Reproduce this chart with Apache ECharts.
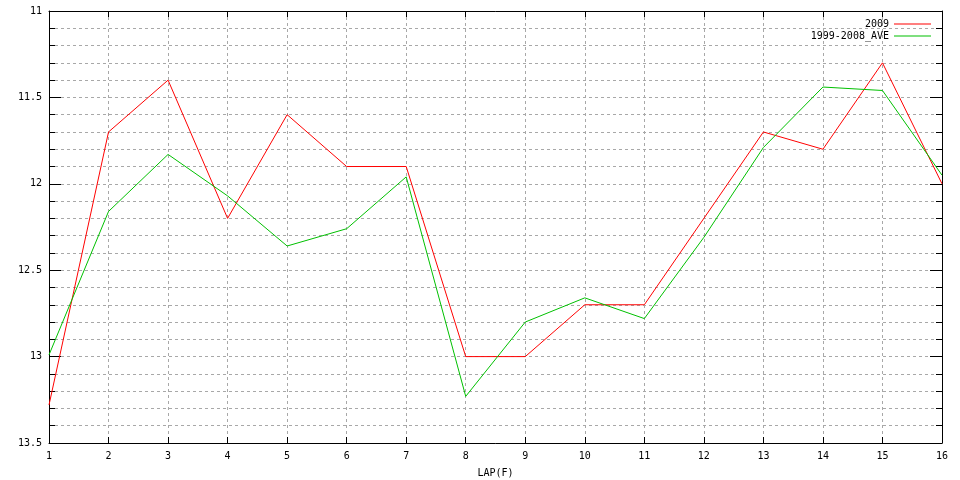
<!DOCTYPE html>
<html>
<head>
<meta charset="utf-8">
<script src="https://cdn.jsdelivr.net/npm/echarts@6/dist/echarts.min.js"></script>
<style>html,body{margin:0;padding:0;background:#fff;}#c{width:960px;height:480px;}</style>
</head>
<body>
<div id="c"></div>
<script>
const laps = [1,2,3,4,5,6,7,8,9,10,11,12,13,14,15,16];
const series2009 = [13.28,11.7,11.4,12.2,11.6,11.9,11.9,13.0,13.0,12.7,12.7,12.2,11.7,11.8,11.3,12.0];
const seriesAve = [12.99,12.16,11.83,12.07,12.36,12.26,11.96,13.23,12.8,12.66,12.78,12.31,11.79,11.44,11.46,11.95];
const seriesNames = ['2009','1999-2008_AVE'];
const colors = ['#ff0000','#00c000'];

const font = 'DejaVu Sans Mono';
const gridLine = {show:true, lineStyle:{color:'#a8a8a8', type:[3,3], width:1}};
const chart = echarts.init(document.getElementById('c'));
chart.setOption({
  animation:false,
  textStyle:{fontFamily:font, fontSize:10, color:'#000'},
  grid:{left:49, right:18, top:11, bottom:37, show:false, containLabel:false, outerBoundsMode:'none'},
  legend:{
    show:true, orient:'vertical', right:24, top:14, align:'right',
    icon:'rect', itemWidth:37, itemHeight:1, itemGap:2,
    textStyle:{fontFamily:font, fontSize:10, color:'#000', padding:[0,0,0,1]},
    data:seriesNames
  },
  xAxis:[
    {type:'value', min:1, max:16, interval:1, position:'bottom',
     name:'LAP(F)', nameLocation:'middle', nameGap:25,
     nameTextStyle:{fontFamily:font, fontSize:10, color:'#000'},
     axisLine:{show:true, lineStyle:{color:'#000', width:1}},
     axisTick:{show:true, inside:true, length:6, lineStyle:{color:'#000'}},
     axisLabel:{margin:8, fontFamily:font, fontSize:10, color:'#000'},
     splitLine:gridLine},
    {type:'value', min:1, max:16, interval:1, position:'top',
     axisLine:{show:true, lineStyle:{color:'#000', width:1}},
     axisTick:{show:true, inside:true, length:6, lineStyle:{color:'#000'}},
     axisLabel:{show:false}, splitLine:{show:false}}
  ],
  yAxis:[
    {type:'value', min:11, max:13.5, interval:0.5, inverse:true, position:'left',
     axisLine:{show:true, lineStyle:{color:'#000', width:1}},
     axisTick:{show:true, inside:true, length:12, lineStyle:{color:'#000'}},
     minorTick:{show:true, splitNumber:5, length:6, lineStyle:{color:'#000'}},
     axisLabel:{margin:7, fontFamily:font, fontSize:10, color:'#000'},
     splitLine:gridLine, minorSplitLine:gridLine},
    {type:'value', min:11, max:13.5, interval:0.5, inverse:true, position:'right',
     axisLine:{show:true, lineStyle:{color:'#000', width:1}},
     axisTick:{show:true, inside:true, length:12, lineStyle:{color:'#000'}},
     minorTick:{show:true, splitNumber:5, length:6, lineStyle:{color:'#000'}},
     axisLabel:{show:false}, splitLine:{show:false}}
  ],
  series:[
    {name:seriesNames[0], type:'line', symbol:'none', color:colors[0],
     lineStyle:{width:1, color:colors[0]},
     data:laps.map((x,i)=>[x,series2009[i]])},
    {name:seriesNames[1], type:'line', symbol:'none', color:colors[1],
     lineStyle:{width:1, color:colors[1]},
     data:laps.map((x,i)=>[x,seriesAve[i]])}
  ]
});
</script>
</body>
</html>
